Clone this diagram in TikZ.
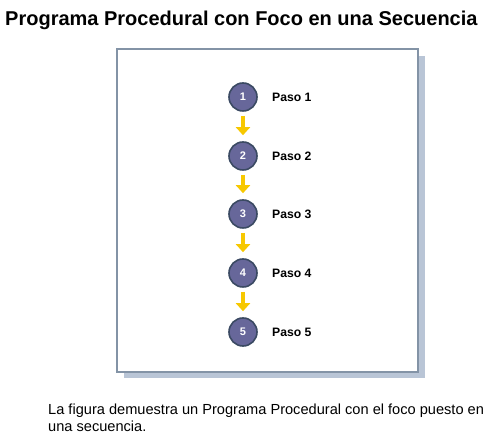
\documentclass[tikz,border=0pt]{standalone}
\usepackage{fontspec}
\setmainfont{Liberation Sans}
\usetikzlibrary{arrows.meta}
\definecolor{stepfill}{HTML}{67679A}
\definecolor{stepline}{HTML}{3B4A63}
\definecolor{arrowyellow}{HTML}{F7C800}
\definecolor{frameline}{HTML}{8393A6}
\definecolor{frameshadow}{HTML}{B9C5D6}
\begin{document}
\begin{tikzpicture}[
    x=1pt, y=-1pt,
    stepdot/.style={circle, draw=stepline, line width=1.6pt, fill=stepfill, minimum size=28pt, inner sep=0pt, text=white, font=\fontsize{11}{12}\selectfont\bfseries},
    steplabel/.style={anchor=west, inner sep=0pt, font=\fontsize{12.2}{14}\selectfont\bfseries},
    arrow/.style={-{Triangle[width=14pt,length=8pt]}, line width=4pt, draw=arrowyellow, shorten <=4pt, shorten >=6pt}
]
\useasboundingbox (0,0) rectangle (499,443);
% frame with shadow
\fill[frameshadow] (124,56) rectangle (425,378);
\draw[frameline, fill=white, line width=1.2pt] (117,49) rectangle (418,372);

\node[anchor=base west, inner sep=0pt, font=\fontsize{20}{22}\selectfont\bfseries] (title) at (5,26) {Programa Procedural con Foco en una Secuencia};

\node[stepdot] (c1) at (243,97) {1};
\node[stepdot] (c2) at (243,156) {2};
\node[stepdot] (c3) at (243,214) {3};
\node[stepdot] (c4) at (243,273) {4};
\node[stepdot] (c5) at (243,332) {5};

\node[steplabel] (l1) at (272,97) {Paso 1};
\node[steplabel] (l2) at (272,156) {Paso 2};
\node[steplabel] (l3) at (272,214) {Paso 3};
\node[steplabel] (l4) at (272,273) {Paso 4};
\node[steplabel] (l5) at (272,332) {Paso 5};

\draw[arrow] (c1) -- (c2);
\draw[arrow] (c2) -- (c3);
\draw[arrow] (c3) -- (c4);
\draw[arrow] (c4) -- (c5);

\node[anchor=north west, inner sep=0pt, align=left, font=\fontsize{14.6}{17}\selectfont] (caption) at (48,404) {La figura demuestra un Programa Procedural con el foco puesto en\\una secuencia.};
\end{tikzpicture}
\end{document}
